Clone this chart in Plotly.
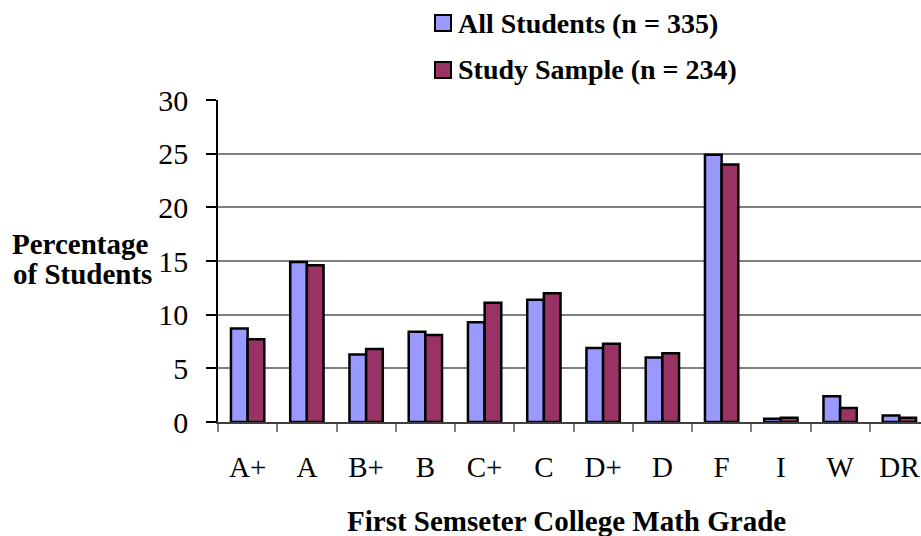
import plotly.graph_objects as go

# Grade categories and percentages
grades = ["A+", "A", "B+", "B", "C+", "C", "D+", "D", "F", "I", "W", "DR"]
all_students = [8.7, 14.9, 6.3, 8.4, 9.3, 11.4, 6.9, 6.0, 24.9, 0.3, 2.4, 0.6]
study_sample = [7.7, 14.6, 6.8, 8.1, 11.1, 12.0, 7.3, 6.4, 24.0, 0.4, 1.3, 0.4]
series_names = ["All Students (n = 335)", "Study Sample (n = 234)"]
series_colors = ["#9999FF", "#993366"]
y_ticks = [0, 5, 10, 15, 20, 25, 30]

FONT = "Liberation Serif, Times New Roman, serif"

# plot area in page pixels: x 218..921, y 100..422
L, R, T, B = 218, 921, 100, 422


def px(x):
    return (x - L) / (R - L)


def py(y):
    return (B - y) / (B - T)


fig = go.Figure()
for name, vals, col in zip(series_names, [all_students, study_sample], series_colors):
    fig.add_trace(go.Bar(
        x=grades, y=vals, name=name,
        marker=dict(color=col, line=dict(color="black", width=2.5)),
    ))

fig.update_layout(
    width=921, height=536,
    margin=dict(l=L, r=921 - R, t=T, b=536 - B, autoexpand=False),
    plot_bgcolor="white", paper_bgcolor="white",
    font=dict(family=FONT, color="black"),
    barmode="group",
    bargap=0.4375, bargroupgap=0,
    showlegend=False,
)

fig.update_xaxes(
    range=[-0.5, 11.365],
    showline=True, linecolor="#404040", linewidth=1.5,
    ticks="outside", tickson="boundaries", ticklen=8, tickcolor="#808080", tickwidth=1.5,
    tickfont=dict(size=29), tickangle=0,
    ticklabelstandoff=18,
    showgrid=False,
)
fig.update_yaxes(
    range=[0, 30], tickvals=y_ticks,
    showline=True, linecolor="black", linewidth=1.5,
    ticks="outside", ticklen=10, tickcolor="black", tickwidth=1.5,
    tickfont=dict(size=30),
    ticklabelstandoff=12,
    showgrid=True, gridcolor="#808080", gridwidth=1.5,
    zeroline=False,
)

# legend drawn as boxes + text
for i, (name, col) in enumerate(zip(series_names, series_colors)):
    yc = 23 + 47 * i
    fig.add_shape(
        type="rect", xref="paper", yref="paper",
        x0=px(435), x1=px(451), y0=py(yc - 8), y1=py(yc + 8),
        fillcolor=col, line=dict(color="black", width=2),
    )
    fig.add_annotation(
        text="<b>" + name + "</b>", xref="paper", yref="paper",
        x=px(456), y=py(yc), xanchor="left", yanchor="middle",
        showarrow=False, font=dict(size=28, family=FONT),
    )

fig.add_annotation(
    text="<b>Percentage</b>", xref="paper", yref="paper",
    x=px(80), y=py(244), xanchor="center", yanchor="middle",
    showarrow=False, font=dict(size=29, family=FONT),
)
fig.add_annotation(
    text="<b>of Students</b>", xref="paper", yref="paper",
    x=px(82), y=py(274), xanchor="center", yanchor="middle",
    showarrow=False, font=dict(size=29, family=FONT),
)
fig.add_annotation(
    text="<b>First Semseter College Math Grade</b>", xref="paper", yref="paper",
    x=px(566), y=py(521), xanchor="center", yanchor="middle",
    showarrow=False, font=dict(size=29, family=FONT),
)

# drop the default 8px body margin so the figure fills the window
fig.write_html("out.html", config={"displayModeBar": False},
               post_script="document.body.style.margin='0';")
